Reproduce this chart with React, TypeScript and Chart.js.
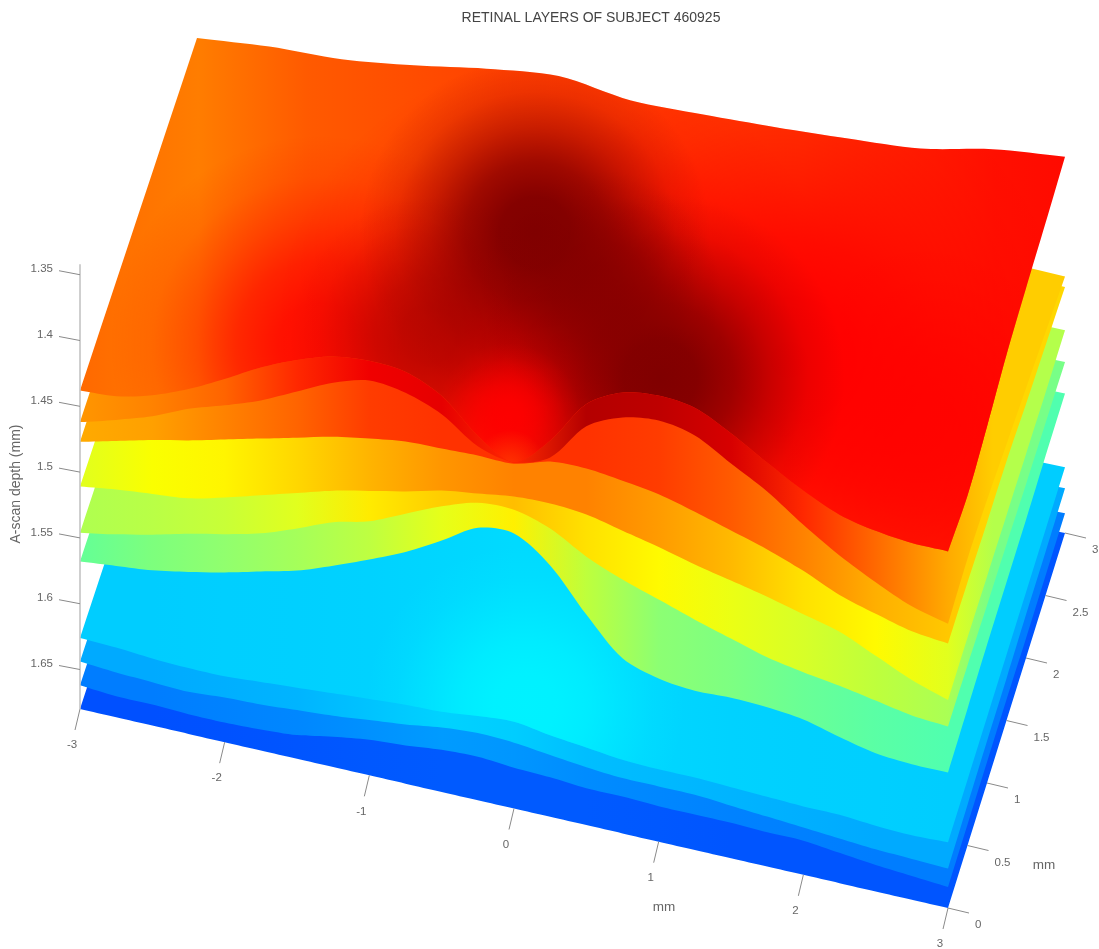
import React, { useEffect, useRef } from "react";
import { Chart, registerables } from "chart.js";

Chart.register(...registerables);

const TITLE = "RETINAL LAYERS OF SUBJECT 460925";
const DEPTH_LABEL = "A-scan depth (mm)";
const AXIS_UNIT = "mm";

// positions along the two horizontal axes, in mm
const xMm = [-3,-2.75,-2.5,-2.25,-2,-1.75,-1.5,-1.25,-1,-0.75,-0.5,-0.25,0,0.25,0.5,0.75,1,1.25,1.5,1.75,2,2.25,2.5,2.75,3];
const yMm = [0,0.5,1,1.5,2,2.5,3];
const backXMm = [-3,-2.5,-2,-1.5,-1,-0.5,0,0.5,1,1.5,2,2.5,3];

const xTicks = [-3,-2,-1,0,1,2,3];
const yTicks = [0,0.5,1,1.5,2,2.5,3];
const depthTicks = [1.35,1.4,1.45,1.5,1.55,1.6,1.65];

// layer depth (micrometres) along the front edge y = 0
const front1 = [1438,1436,1429,1418,1404,1389,1377,1368,1365,1367,1379,1403,1417,1394,1360,1345,1341,1344,1357,1373,1388,1400,1406,1409,1409];
const front2 = [1462,1454,1445,1433,1424,1414,1401,1388,1380,1383,1393,1411,1417,1407,1377,1364,1360,1365,1380,1395,1414,1431,1445,1457,1464];
const front3 = [1477,1470,1463,1457,1450,1443,1436,1429,1424,1420,1419,1418,1418,1410,1409,1412,1416,1423,1431,1439,1449,1461,1469,1476,1479];
const front4 = [1511,1507,1504,1501,1494,1486,1478,1470,1464,1458,1451,1447,1443,1442,1444,1450,1456,1463,1469,1475,1482,1489,1501,1513,1522];
const front5 = [1546,1541,1535,1528,1522,1515,1505,1494,1487,1475,1463,1454,1453,1461,1476,1487,1496,1505,1513,1521,1526,1530,1535,1540,1542];
const front6 = [1568,1565,1562,1557,1551,1544,1537,1527,1516,1504,1489,1473,1471,1489,1520,1547,1556,1559,1558,1559,1562,1569,1575,1577,1577];
const front7 = [1626,1627,1629,1630,1630,1628,1626,1624,1622,1620,1619,1616,1614,1618,1621,1624,1625,1625,1626,1627,1628,1628,1630,1631,1630];
const front8 = [1644,1646,1647,1648,1646,1645,1643,1641,1638,1635,1631,1629,1630,1633,1636,1638,1638,1638,1640,1642,1644,1646,1648,1649,1650];
const front9 = [1662,1664,1664,1665,1665,1664,1662,1657,1653,1651,1648,1647,1649,1650,1652,1652,1653,1653,1653,1654,1654,1657,1660,1662,1664];
const front10 = [1680,1680,1680,1680,1680,1680,1680,1680,1680,1680,1680,1680,1680,1680,1680,1680,1680,1680,1680,1680,1680,1680,1680,1680,1680];

// layer depth (micrometres) along the right edge x = 3
const right1 = [1409,1414,1409,1402,1399,1397,1394];
const right2 = [1464,1462,1465,1470,1475,1480,1485];
const right3 = [1479,1480,1482,1483,1487,1490,1493];
const right4 = [1522,1522,1523,1524,1525,1526,1526];
const right5 = [1542,1543,1545,1546,1548,1549,1550];
const right6 = [1577,1576,1575,1575,1575,1574,1574];
const right7 = [1630,1630,1630,1630,1630,1630,1630];
const right8 = [1650,1649,1648,1648,1647,1647,1646];
const right9 = [1664,1664,1664,1664,1665,1665,1665];
const right10 = [1680,1680,1680,1680,1680,1680,1680];

// top layer along its back edge y = 3, x from -3 to 3
const back1 = [1455,1449,1446,1438,1428,1421,1427,1425,1422,1418,1413,1401,1394];

// colour of each layer's flank, sampled every 0.5 mm along x, then on its right-facing side
const colors2 = ["rgb(255,150,0)","rgb(255,130,0)","rgb(255,100,0)","rgb(255,40,0)","rgb(240,0,0)","rgb(230,0,0)","rgb(255,40,0)","rgb(180,0,0)","rgb(190,0,0)","rgb(215,0,0)","rgb(255,40,0)","rgb(255,105,0)","rgb(255,170,0)","rgb(255,205,0)"];
const colors3 = ["rgb(255,170,0)","rgb(255,160,0)","rgb(255,130,0)","rgb(255,100,0)","rgb(255,60,0)","rgb(255,50,0)","rgb(255,50,0)","rgb(255,50,0)","rgb(255,60,0)","rgb(255,90,0)","rgb(255,130,0)","rgb(255,175,0)","rgb(255,200,0)","rgb(255,215,0)"];
const colors4 = ["rgb(225,255,30)","rgb(250,255,0)","rgb(255,245,0)","rgb(255,215,0)","rgb(255,180,0)","rgb(255,150,0)","rgb(255,130,0)","rgb(255,130,0)","rgb(255,155,0)","rgb(255,185,0)","rgb(255,225,0)","rgb(255,250,0)","rgb(225,255,30)","rgb(180,255,75)"];
const colors5 = ["rgb(175,255,80)","rgb(185,255,70)","rgb(200,255,55)","rgb(225,255,30)","rgb(255,235,0)","rgb(255,205,0)","rgb(255,190,0)","rgb(255,225,0)","rgb(255,250,0)","rgb(235,255,20)","rgb(215,255,40)","rgb(190,255,60)","rgb(170,255,85)","rgb(120,255,135)"];
const colors6 = ["rgb(100,255,150)","rgb(125,255,125)","rgb(145,255,110)","rgb(165,255,90)","rgb(190,255,65)","rgb(230,255,25)","rgb(255,240,0)","rgb(190,255,60)","rgb(140,255,115)","rgb(125,255,130)","rgb(105,255,150)","rgb(90,255,165)","rgb(80,255,175)","rgb(80,255,175)"];
const colors7 = ["rgb(0,205,255)","rgb(0,205,255)","rgb(0,207,255)","rgb(0,208,255)","rgb(0,210,255)","rgb(0,214,255)","rgb(0,218,255)","rgb(0,218,255)","rgb(0,214,255)","rgb(0,210,255)","rgb(0,208,255)","rgb(0,207,255)","rgb(0,205,255)","rgb(0,205,255)"];
const colors8 = ["rgb(0,170,255)","rgb(0,170,255)","rgb(0,175,255)","rgb(0,180,255)","rgb(0,195,255)","rgb(0,210,255)","rgb(0,205,255)","rgb(0,190,255)","rgb(0,185,255)","rgb(0,180,255)","rgb(0,175,255)","rgb(0,170,255)","rgb(0,170,255)","rgb(0,170,255)"];
const colors9 = ["rgb(0,125,255)","rgb(0,125,255)","rgb(0,130,255)","rgb(0,135,255)","rgb(0,145,255)","rgb(0,155,255)","rgb(0,150,255)","rgb(0,140,255)","rgb(0,135,255)","rgb(0,130,255)","rgb(0,128,255)","rgb(0,125,255)","rgb(0,125,255)","rgb(0,125,255)"];
const colors10 = ["rgb(0,80,255)","rgb(0,80,255)","rgb(0,82,255)","rgb(0,85,255)","rgb(0,88,255)","rgb(0,90,255)","rgb(0,90,255)","rgb(0,90,255)","rgb(0,88,255)","rgb(0,85,255)","rgb(0,85,255)","rgb(0,85,255)","rgb(0,85,255)","rgb(0,85,255)"];

const W = 1099;
const H = 949;

// The MATLAB view is a plain affine projection of (x mm, y mm, depth um)
const project = (x: number, y: number, d: number) => ({
  x: 80 + (x + 3) * 144.67 + y * 39,
  y: 709 + (x + 3) * 33.17 - y * 125 + (d - 1680) * 1.316,
});

function layerPolygon(front: number[], right: number[], back?: number[]) {
  const pts: { x: number; y: number }[] = [];
  xMm.forEach((x, i) => pts.push(project(x, 0, front[i])));
  pts.push(project(3, 0, right[0]));
  yMm.forEach((y, i) => pts.push(project(3, y, right[i])));
  pts.push(project(3, 3, right[right.length - 1]));
  if (back) {
    for (let i = backXMm.length - 1; i >= 0; i--) pts.push(project(backXMm[i], 3, back[i]));
    pts.push(project(-3, 3, back[0]));
  } else {
    pts.push(project(-3, 3, front[0] + 17));
    pts.push(project(-3, 3, front[0] + 17));
  }
  pts.push(project(-3, 0, front[0]));
  pts.push(project(-3, 0, front[0]));
  return pts;
}

// 12 stops cover x = -3..3; the last colour belongs to the right-facing side
function stripeGradient(ctx: CanvasRenderingContext2D, colors: string[]) {
  const x0 = project(-3, 0, 1500).x;
  const x1 = project(3, 0, 1500).x;
  const xEnd = x1 + 45;
  const g = ctx.createLinearGradient(x0, 0, xEnd, 0);
  colors.forEach((c, i) => {
    const off = i < 13 ? (i / 12) * ((x1 - x0) / (xEnd - x0)) : 1;
    g.addColorStop(off, c);
  });
  return g;
}

function blob(ctx: CanvasRenderingContext2D, cx: number, cy: number, r: number, stops: [number, string][]) {
  const g = ctx.createRadialGradient(cx, cy, 0, cx, cy, r);
  stops.forEach(([o, c]) => g.addColorStop(o, c));
  return g;
}

export default function App() {
  const ref = useRef<HTMLCanvasElement>(null);
  useEffect(() => {
    document.body.style.margin = "0";
    const canvas = ref.current!;
    const ctx = canvas.getContext("2d")!;

    const fillSet = (data: { x: number; y: number }[], bg: any) => ({
      data,
      showLine: true,
      fill: "shape",
      backgroundColor: bg,
      borderWidth: 0,
      borderColor: "transparent",
      pointRadius: 0,
      tension: 0.3,
    });
    const lineSet = (data: { x: number; y: number }[], color: string, width: number) => ({
      data,
      showLine: true,
      fill: false,
      borderColor: color,
      borderWidth: width,
      pointRadius: 0,
      tension: 0,
    });

    const top = layerPolygon(front1, right1, back1);
    const topBase = ctx.createLinearGradient(80, 0, 1065, 0);
    topBase.addColorStop(0, "rgb(255,105,0)");
    topBase.addColorStop(0.12, "rgb(255,125,0)");
    topBase.addColorStop(0.23, "rgb(255,90,0)");
    topBase.addColorStop(0.43, "rgb(255,65,0)");
    topBase.addColorStop(0.73, "rgb(255,50,0)");
    topBase.addColorStop(0.93, "rgb(255,15,0)");
    topBase.addColorStop(1, "rgb(255,10,0)");

    const red = (a: number) => `rgba(255,0,0,${a})`;
    const dark = (a: number) => `rgba(128,0,0,${a})`;
    const soft: [number, number][] = [[0, 1], [0.2, 0.96], [0.4, 0.75], [0.6, 0.42], [0.8, 0.14], [1, 0]];
    const shaded = (f: (a: number) => string, k: number) =>
      soft.map(([o, a]) => [o, f(a * k)] as [number, string]);
    const topOverlays = [
      blob(ctx, 320, 345, 210, shaded(red, 0.85)),
      blob(ctx, 560, 345, 290, shaded(red, 1)),
      blob(ctx, 790, 360, 300, shaded(red, 1)),
      blob(ctx, 920, 430, 190, shaded(red, 0.75)),
      blob(ctx, 535, 232, 175, shaded(dark, 1)),
      blob(ctx, 660, 378, 185, shaded(dark, 1)),
      blob(ctx, 430, 335, 140, shaded(dark, 0.5)),
      blob(ctx, 600, 290, 120, shaded(dark, 0.7)),
      blob(ctx, 508, 415, 72, shaded(red, 0.9)),
      blob(ctx, 510, 465, 35, [[0, "rgba(255,50,0,1)"], [1, "rgba(255,50,0,0)"]]),
    ];
    const cyanGlow = blob(ctx, 525, 705, 160, shaded((a) => `rgba(0,243,255,${a})`, 0.95));
    const cyanPoly = layerPolygon(front7, right7);

    // painted first -> painted last
    const painter: any[] = [
      fillSet(layerPolygon(front10, right10), stripeGradient(ctx, colors10)),
      fillSet(layerPolygon(front9, right9), stripeGradient(ctx, colors9)),
      fillSet(layerPolygon(front8, right8), stripeGradient(ctx, colors8)),
      fillSet(cyanPoly, stripeGradient(ctx, colors7)),
      fillSet(cyanPoly, cyanGlow),
      fillSet(layerPolygon(front6, right6), stripeGradient(ctx, colors6)),
      fillSet(layerPolygon(front5, right5), stripeGradient(ctx, colors5)),
      fillSet(layerPolygon(front4, right4), stripeGradient(ctx, colors4)),
      fillSet(layerPolygon(front3, right3), stripeGradient(ctx, colors3)),
      fillSet(layerPolygon(front2, right2), stripeGradient(ctx, colors2)),
      fillSet(top, topBase),
      ...topOverlays.map((g) => fillSet(top, g)),
    ];

    const axisGrey = "#8a8a8a";
    const axes: any[] = [
      lineSet([project(-3, 0, 1342), project(-3, 0, 1680)], "#c0c0c0", 1.5),
      ...depthTicks.map((d) => {
        const a = project(-3, 0, d * 1000);
        return lineSet([a, { x: a.x - 21, y: a.y - 4 }], axisGrey, 1);
      }),
      ...xTicks.map((x) => {
        const a = project(x, 0, 1680);
        return lineSet([a, { x: a.x - 5, y: a.y + 21 }], axisGrey, 1);
      }),
      ...yTicks.map((y) => {
        const a = project(3, y, 1680);
        return lineSet([a, { x: a.x + 21, y: a.y + 5 }], axisGrey, 1);
      }),
    ];

    const textPlugin = {
      id: "surfaceText",
      afterDraw(chart: any) {
        const c = chart.ctx as CanvasRenderingContext2D;
        const px = (v: number) => chart.scales.x.getPixelForValue(v);
        const py = (v: number) => chart.scales.y.getPixelForValue(v);
        const FONT = '"Liberation Sans", Arial, sans-serif';
        c.save();
        c.fillStyle = "#444";
        c.font = `14px ${FONT}`;
        c.textAlign = "center";
        c.textBaseline = "middle";
        c.fillText(TITLE, px(591), py(18));

        c.fillStyle = "#666";
        c.font = `11.5px ${FONT}`;
        c.textAlign = "right";
        depthTicks.forEach((d) => {
          const a = project(-3, 0, d * 1000);
          c.fillText(String(d), px(53), py(a.y - 5.5));
        });
        c.textAlign = "center";
        xTicks.forEach((x) => {
          const a = project(x, 0, 1680);
          c.fillText(String(x), px(a.x - 8), py(a.y + 36));
        });
        c.textAlign = "left";
        yTicks.forEach((y) => {
          const a = project(3, y, 1680);
          c.fillText(String(y), px(a.x + 27), py(a.y + 17));
        });

        c.font = `13.5px ${FONT}`;
        c.textAlign = "center";
        c.fillText(AXIS_UNIT, px(664), py(907));
        c.fillText(AXIS_UNIT, px(1044), py(865));

        c.font = `14px ${FONT}`;
        c.translate(px(16), py(484));
        c.rotate(-Math.PI / 2);
        c.fillText(DEPTH_LABEL, 0, 0);
        c.restore();
      },
    };

    const chart = new Chart(canvas, {
      type: "scatter",
      data: { datasets: [...axes.reverse(), ...painter.reverse()] },
      options: {
        animation: false,
        responsive: false,
        events: [],
        layout: { padding: 0 },
        plugins: { legend: { display: false }, tooltip: { enabled: false }, title: { display: false } },
        scales: {
          x: { type: "linear", min: 0, max: W, display: false },
          y: { type: "linear", min: 0, max: H, reverse: true, display: false },
        },
      },
      plugins: [textPlugin],
    } as any);
    return () => chart.destroy();
  }, []);
  return <canvas ref={ref} width={W} height={H} style={{ display: "block", width: W, height: H, filter: "blur(0.6px)" }} />;
}
